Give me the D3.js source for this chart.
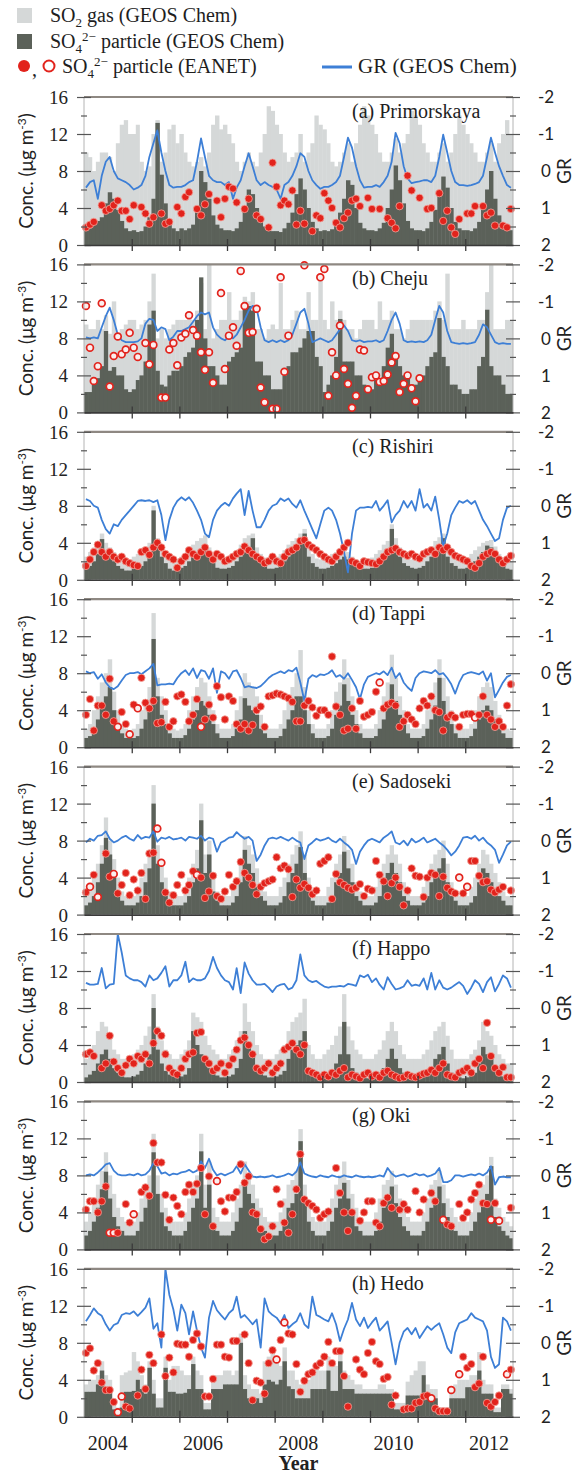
<!DOCTYPE html>
<html>
<head>
<meta charset="utf-8">
<script src="https://cdn.jsdelivr.net/npm/d3@7"></script>
<style>
  body { margin: 0; background: #fff; }
  svg { display: block; }
</style>
</head>
<body>
<svg id="chart" width="576" height="1479"></svg>
<script>
// monthly values Jan 2004 .. Dec 2012 (108 months), one row per year
const _ = null;

const stationNames = ["(a) Primorskaya", "(b) Cheju", "(c) Rishiri", "(d) Tappi",
                      "(e) Sadoseki", "(f) Happo", "(g) Oki", "(h) Hedo"];

// ---- (a) Primorskaya
const so2_a = [10,9.5,8,9,10,10,9.5,8,11,13,13.5,12,
  12,13,9,8,8.5,12,13.5,9,10,12.5,13,11,
  12,10,9,8.5,9,9.5,8.5,10,13,14,12.5,13,
  12,11,9,8,9,10,9,8.5,10,12,15,14.5,
  13,12,10,9,9.5,10,12,9,10,11,14,13,
  12.5,11,9,8.5,9,10,11,9,11,13,15,14,
  13,12,10,9,9,10,11.5,10,11,12,14.5,14,
  13,11,10,9,9,10,11,9,10,12,14,13,
  12,11,10,9,9,10,11,9,11,12,13.5,12];
const so4_a = [2.0,1.8,2.2,2.6,3.0,4.5,5.7,5.0,3.8,2.6,1.8,1.5,
  1.6,1.4,1.5,2.0,3.0,5.0,13.2,7.6,4.5,2.5,1.8,1.5,
  1.8,1.6,1.8,2.2,3.5,8.0,6.8,5.0,3.2,2.2,1.8,1.6,
  1.6,1.5,1.8,2.5,4.0,6.0,5.5,4.0,2.8,2.0,1.6,1.5,
  1.5,1.4,1.8,2.4,3.5,5.5,7.2,6.0,4.0,2.5,1.8,1.5,
  1.6,1.5,1.7,2.2,3.5,5.0,7.0,6.5,4.0,2.4,1.8,1.6,
  1.6,1.5,1.8,2.4,4.0,6.0,8.6,7.0,4.5,2.6,1.8,1.6,
  1.6,1.5,1.8,2.5,3.8,5.5,7.4,6.2,4.0,2.5,1.8,1.6,
  1.6,1.5,1.8,2.5,4.0,6.0,8.0,5.0,3.2,2.2,1.8,1.6];
const gr_a = [0.45,0.3,0.25,0.75,0.13,-0.25,-0.38,0,0.2,0.25,0.3,0.38,
  0.5,0.45,0.38,0.13,-0.38,-0.75,-1.1,-0.5,0,0.38,0.45,0.43,
  0.43,0.38,0.3,0.25,-0.25,-0.88,-0.38,0.13,0.25,0.3,0.3,0.38,
  0.3,0.75,0.45,0.25,-0.13,-0.48,-0.13,0.25,0.38,0.3,0.38,0.43,
  0.5,0.75,0.38,0.3,0.13,-0.13,-0.48,-0.38,0,0.25,0.38,0.48,
  0.43,0.43,0.38,0.3,0.13,-0.38,-0.9,-0.63,-0.13,0.25,0.45,0.43,
  0.43,0.38,0.43,0.3,0.13,-0.25,-1.03,-0.75,-0.13,0.2,0.33,0.3,
  0.28,0.25,0.25,0.3,0.13,-0.38,-0.98,-0.5,0,0.3,0.38,0.38,
  0.4,0.38,0.35,0.3,0.13,-0.38,-0.9,-0.5,-0.13,0.13,0.38,0.45];
const eanet_a = [1.9,2.2,2.5,_,4.3,3.7,3.9,4.3,4.8,3.7,3.7,2.8,
  4.3,_,4.1,3.4,2.3,3.0,_,3.4,2.3,2.5,_,4.1,
  3.4,5.2,5.7,_,3.9,3.2,4.4,5.5,_,4.8,3.0,5.0,
  6.3,6.1,4.6,_,3.9,5.0,_,3.2,2.8,_,1.9,8.9,
  6.3,4.3,4.8,4.4,5.9,2.2,3.7,2.3,_,1.5,3.2,2.9,
  5.6,4.8,4.0,2.4,1.9,2.9,3.5,4.8,5.0,4.2,_,5.1,
  3.9,_,3.9,_,2.9,2.4,1.8,4.2,_,7.5,5.9,_,
  5.1,_,3.9,4.0,_,5.6,2.6,3.7,1.9,1.2,2.8,_,
  3.4,3.4,4.2,_,4.2,3.2,3.5,2.1,_,2.1,1.9,3.9];
const open_a = [];

// ---- (b) Cheju
const so2_b = [9.5,9,9,10,9,10.5,8.5,12,8,9,9.5,10,
  10,9,9.5,10,12,15,8,9,8,9,9.5,10,
  10,10,10.5,10,11,14,9,16,8,9,10,10,
  13,10,10,11,12.5,12,13,9,9,8,9,9.5,
  9,14,9,9,10,11,9,9,13,10,10,15,
  10,9,12,10,11,10,9,9,8,9,10,10,
  10,9,12,10,10,11,9,9,8,9,10,10,
  10,10,10,10,11,12,10,15,9,9,9,10,
  9,9,9,10,10,13,16,9,9,9,10,10];
const so4_b = [2.2,2.2,3.7,3.7,5.0,8.8,4.5,4.9,4.0,4.0,2.5,2.2,
  2.5,3.5,4.0,5.5,9.5,11.0,4.5,3.0,2.8,4.0,4.5,4.5,
  5.0,6.0,6.5,7.0,10.0,14.6,8.0,5.0,5.0,4.0,3.0,3.0,
  5.5,6.0,6.5,7.0,11.9,11.5,11.0,5.5,5.5,4.0,4.0,2.5,
  2.5,2.5,4.0,5.0,6.5,6.5,7.0,8.0,8.8,8.8,6.0,5.0,
  2.2,3.0,4.0,6.0,10.1,5.5,5.5,5.5,4.0,4.0,3.0,2.5,
  2.5,3.5,3.5,5.0,7.0,8.5,6.0,5.0,4.0,4.0,3.0,3.0,
  4.0,4.0,5.0,6.0,6.5,10.2,6.0,5.0,3.0,3.0,2.5,2.0,
  2.0,2.5,2.5,5.0,6.0,11.1,5.0,4.0,4.0,3.0,2.0,2.0];
const gr_b = [-0.03,0,-0.03,0,-0.3,-0.6,-0.83,-0.5,-0.1,0.05,0.1,0.1,
  0.1,0.08,0,-0.4,-0.53,-0.5,-0.2,-0.3,-0.25,0.05,-0.05,-0.2,
  -0.2,-0.25,-0.3,-0.45,-0.6,-0.7,-0.65,-0.7,-0.3,-0.1,0,0.05,
  -0.05,0,-0.1,-0.3,-0.5,-0.75,-0.88,-0.8,-0.3,0.05,0.1,0.05,
  0.1,0.05,0.1,0.05,-0.1,-0.4,-0.7,-0.8,-0.4,0.1,0.05,0,
  0.05,0.1,0.05,-0.1,-0.25,-0.35,-0.2,0.05,0.08,0.05,0.1,0.08,
  0.08,0.05,0.1,0.05,-0.2,-0.5,-0.7,-0.4,0.05,0.1,0.08,0.1,
  0.08,0.1,0.05,-0.1,-0.5,-0.88,-0.7,-0.2,0.1,0.13,0.15,0.13,
  0.15,0.13,0.1,-0.1,-0.38,-0.3,-0.1,0.1,0.15,0.13,0.15,0.15];
const eanet_b = [11.5,7.0,3.4,5.0,11.8,_,2.8,6.1,8.2,6.3,6.8,8.6,
  7.0,6.0,_,7.5,5.2,7.3,_,1.6,1.6,6.8,7.5,5.1,
  8.1,8.5,10.5,8.9,8.3,6.5,4.6,6.5,3.2,_,12.9,4.7,
  8.3,9.2,7.2,15.3,11.5,8.6,8.7,11.2,2.7,1.1,_,0.4,
  0.4,14.6,4.4,8.3,_,_,_,15.9,_,_,_,14.6,
  15.5,1.8,6.5,4.0,9.4,4.7,3.1,0.5,1.8,6.8,6.7,2.5,
  3.8,4.0,3.3,3.4,4.1,5.4,6.1,2.2,3.1,4.0,2.6,1.2,
  3.7,_,_,_,_,_,_,_,_,_,_,_,
  _,_,_,_,_,_,_,_,_,_,_,_];
const open_b = "all";

// ---- (c) Rishiri
const so2_c = [2.5,3.0,3.5,4.0,5.0,4.0,3.5,3.0,2.5,2.2,2.0,2.2,
  2.5,2.8,3.0,3.5,4.0,8.0,4.5,3.5,2.8,2.2,2.0,2.3,
  2.5,2.8,3.2,3.8,4.2,4.5,4.8,3.5,2.8,2.3,2.0,2.2,
  2.4,2.8,3.2,3.8,4.5,4.8,5.0,3.5,2.8,2.4,2.2,2.2,
  2.5,2.8,3.2,3.8,4.2,4.5,5.0,5.5,3.5,2.8,2.3,2.2,
  2.2,2.4,2.8,3.0,3.2,3.5,3.0,2.5,2.2,2.0,2.0,2.1,
  2.4,2.8,3.2,3.8,4.2,6.0,4.5,3.5,2.8,2.4,2.2,2.2,
  2.4,2.8,3.2,3.6,4.2,4.6,5.0,3.5,2.8,2.4,2.2,2.2,
  2.4,2.8,3.2,3.6,4.0,4.2,4.3,3.6,2.8,2.4,2.1,2.0];
const so4_c = [1.2,1.5,2.0,2.8,4.4,3.0,2.5,2.0,1.5,1.2,1.0,1.0,
  1.2,1.3,1.5,2.0,2.5,7.5,3.5,2.5,1.8,1.2,1.0,1.2,
  1.3,1.5,2.0,2.5,3.0,3.2,3.5,2.5,1.8,1.3,1.2,1.2,
  1.3,1.5,2.0,2.5,3.0,3.5,4.5,2.5,1.8,1.5,1.2,1.2,
  1.3,1.5,2.0,2.5,3.0,3.5,4.0,5.0,2.5,1.8,1.4,1.2,
  1.2,1.3,1.5,1.8,2.2,2.5,2.2,1.8,1.5,1.2,1.2,1.2,
  1.3,1.5,2.0,2.5,3.0,5.5,3.5,2.5,1.8,1.5,1.3,1.2,
  1.3,1.5,2.0,2.5,3.0,3.5,4.5,2.5,1.8,1.5,1.2,1.2,
  1.3,1.5,2.0,2.5,3.0,3.7,3.5,2.8,2.0,1.5,1.2,1.1];
const gr_c = [-0.18,-0.13,0,0.05,0.38,0.63,0.75,0.5,0.55,0.38,0.25,0.13,
  0,-0.13,-0.15,-0.13,-0.15,-0.1,-0.15,0.25,0.93,0.38,0.05,-0.13,
  -0.23,-0.15,-0.23,-0.08,0.13,0.38,0.75,0.85,0.38,0.13,0,-0.08,
  0,-0.2,-0.33,-0.45,0.25,-0.4,0.13,0.58,0.58,0.38,0.13,0,
  -0.05,-0.2,-0.13,-0.2,-0.05,0.05,-0.15,0.13,0.38,0.63,0.88,0.5,
  0.13,0.05,0.13,0.38,0.75,1.25,1.8,0.75,0.13,0.05,0.05,0.03,
  0.05,-0.13,0.13,0,-0.15,0.45,0.25,0.13,-0.13,0.05,-0.13,0.13,
  -0.45,0.05,-0.05,0.13,-0.25,0.38,1.1,0.75,0.25,0.05,-0.13,-0.08,
  -0.15,-0.05,-0.13,0.13,0.38,0.55,0.75,0.95,0.88,0.38,0.05,0];
const eanet_c = [1.5,2.2,3.0,3.8,3.0,2.5,3.0,2.5,2.2,2.5,2.0,1.8,
  1.6,1.5,3.0,3.2,2.7,3.5,4.0,3.5,2.8,2.5,2.2,1.3,
  2.0,2.5,3.2,2.8,2.5,3.0,3.5,2.8,2.2,2.8,2.5,2.0,
  2.2,2.5,2.8,3.0,3.6,3.2,2.8,2.5,2.2,1.8,2.0,2.5,
  2.0,1.8,2.5,3.0,3.2,3.5,4.2,4.3,3.8,3.5,3.2,2.8,
  2.5,2.2,2.0,2.5,3.0,3.5,4.0,2.0,1.8,1.5,2.0,1.9,
  1.8,1.7,2.0,2.5,3.0,3.2,3.4,3.0,2.8,2.6,2.8,2.5,
  2.3,2.8,3.0,3.2,2.8,3.5,3.2,3.5,3.0,2.6,2.4,2.2,
  2.0,1.5,1.3,1.8,2.5,2.8,3.0,2.8,2.2,1.8,2.2,2.6];
const open_c = [];

// ---- (d) Tappi
const so2_d = [2.0,2.5,4.0,5.5,7.0,8.0,9.5,6.0,4.0,2.5,2.0,1.8,
  2.0,2.5,4.0,5.0,6.5,14.5,7.5,5.5,4.0,2.5,2.0,1.8,
  2.0,2.5,4.0,5.5,6.5,7.5,7.0,5.5,4.0,2.5,2.0,2.0,
  2.0,2.5,4.0,5.5,8.0,7.0,6.5,5.5,3.5,2.5,2.0,2.0,
  2.0,2.5,4.0,5.5,6.5,8.0,10.5,6.5,4.0,2.5,2.0,2.0,
  2.0,2.5,4.0,6.0,7.0,9.5,7.5,5.5,4.0,2.5,2.0,2.0,
  2.0,2.5,4.0,5.5,7.0,10.0,7.5,5.5,4.0,2.5,2.0,2.0,
  2.0,2.5,4.0,5.5,7.0,9.5,7.5,5.5,4.0,2.5,2.0,2.0,
  2.0,2.5,4.0,5.5,6.5,7.0,6.5,5.0,3.5,2.5,2.0,1.8];
const so4_d = [1.0,1.2,2.0,3.0,4.5,5.5,6.5,4.0,2.5,1.5,1.0,1.0,
  1.0,1.2,2.0,3.0,4.0,11.7,5.5,3.5,2.5,1.5,1.0,1.0,
  1.0,1.3,2.0,3.0,4.0,5.0,4.5,3.5,2.5,1.5,1.0,1.0,
  1.0,1.2,2.0,3.0,5.3,4.5,4.0,3.5,2.0,1.5,1.0,1.0,
  1.0,1.2,2.0,3.0,4.0,5.5,5.5,4.0,2.5,1.5,1.0,1.0,
  1.0,1.2,2.0,3.5,4.5,6.8,5.0,3.5,2.5,1.5,1.0,1.0,
  1.0,1.2,2.0,3.0,4.5,6.8,5.0,3.5,2.5,1.5,1.0,1.0,
  1.0,1.2,2.0,3.0,4.5,7.5,5.0,3.5,2.5,1.5,1.0,1.0,
  1.0,1.2,2.0,3.0,4.0,4.5,4.0,3.0,2.0,1.5,1.0,1.0];
const gr_d = [-0.05,0,-0.03,0.15,0.03,0.25,0.38,0.43,0.35,0.2,0.05,0,
  0,-0.03,0.03,-0.05,-0.13,-0.25,0.33,0.3,0.3,0.28,0.3,0.13,
  0,-0.08,0.05,-0.13,0.13,-0.08,-0.05,0.15,-0.13,0.53,-0.05,0,
  0.15,-0.05,-0.08,0.13,0.38,0.35,0.38,0.4,0.35,0.25,0.13,0.05,
  0,-0.05,0,-0.08,-0.05,-0.15,0.25,0.75,0.15,0.05,0.1,0.03,
  0.05,0,-0.08,0.1,0.05,0.15,0,0.18,0.38,0.7,0.3,0.1,
  0.05,0,0.03,-0.05,0.05,-0.15,0.13,0,0.25,0.38,0.48,0.13,
  0,-0.05,-0.03,0,-0.08,0.03,0,0.13,0.3,0.55,0.25,0.05,
  0,-0.03,0,0.03,-0.05,0.2,0,0.65,0.45,0.25,0.1,0.05];
const eanet_d = [3.5,5.2,1.8,4.5,4.5,3.5,7.4,2.8,2.2,3.8,2.5,1.4,
  4.6,4.2,7.5,4.8,4.2,5.0,2.6,2.7,4.9,2.2,2.8,5.5,
  5.7,4.9,2.8,3.5,5.2,2.2,3.0,4.6,3.2,6.6,5.4,3.0,
  5.5,5.0,2.5,2.0,2.5,1.8,2.4,4.0,4.4,2.2,5.5,5.6,
  5.8,5.7,5.5,5.3,4.9,2.8,2.8,4.5,5.0,4.3,3.4,4.0,
  4.0,3.5,9.8,4.4,3.5,1.8,2.0,4.2,2.0,5.0,3.3,3.5,
  3.8,6.0,7.0,4.2,4.6,4.8,4.5,2.2,2.8,3.5,3.0,2.5,
  4.2,5.0,4.5,5.5,4.0,3.8,1.8,3.2,3.5,3.2,2.2,3.5,
  3.6,3.6,3.2,3.5,5.5,3.5,3.0,2.2,2.8,2.2,4.5,6.8];
const open_d = [8, 11, 13, 29, 74, 98];

// ---- (e) Sadoseki
const so2_e = [2.0,3.0,4.0,5.5,7.5,10.5,8.0,6.0,4.0,2.5,2.0,2.0,
  2.0,3.0,4.0,5.5,7.0,14.0,7.5,5.5,4.0,2.5,2.0,2.0,
  2.0,3.0,4.0,5.5,7.0,12.0,6.5,8.0,4.0,2.5,2.0,2.0,
  2.0,3.0,4.0,5.5,8.5,7.5,6.5,5.0,3.5,2.5,2.0,2.0,
  2.0,3.0,4.0,5.5,6.5,7.5,9.0,6.5,4.0,2.5,2.0,2.0,
  2.0,3.0,4.0,5.5,6.5,8.5,7.0,5.5,3.5,2.5,2.0,2.0,
  2.0,3.0,4.0,5.5,6.5,7.5,6.5,5.5,3.5,2.5,2.0,2.0,
  2.0,3.0,4.0,5.5,6.5,7.0,8.0,5.5,3.5,2.5,2.0,2.0,
  2.0,3.0,4.0,5.5,7.0,6.5,5.5,4.5,3.5,2.5,2.0,2.0];
const so4_e = [1.0,1.3,2.0,3.5,5.5,8.3,6.5,4.0,2.5,1.5,1.0,1.0,
  1.0,1.3,2.0,3.5,5.0,12.0,5.5,3.5,2.5,1.5,1.0,1.0,
  1.0,1.3,2.0,3.5,5.0,10.2,4.5,6.5,2.5,1.5,1.0,1.0,
  1.0,1.3,2.0,3.5,7.0,5.5,4.5,3.0,2.0,1.5,1.0,1.0,
  1.0,1.3,2.0,3.5,4.5,5.5,7.3,4.5,2.5,1.5,1.0,1.0,
  1.0,1.3,2.0,3.5,4.5,6.8,5.0,3.5,2.0,1.5,1.0,1.0,
  1.0,1.3,2.0,3.5,4.5,5.6,4.5,3.5,2.0,1.5,1.0,1.0,
  1.0,1.3,2.0,3.5,4.5,5.0,6.1,3.5,2.0,1.5,1.0,1.0,
  1.0,1.3,2.0,3.5,5.0,4.5,3.5,2.5,2.0,1.5,1.0,1.0];
const gr_e = [0.05,-0.05,0,-0.13,-0.15,-0.25,-0.05,0.05,0,-0.08,-0.13,-0.05,
  0,-0.15,-0.05,-0.1,-0.08,-0.25,0.03,-0.08,-0.05,-0.1,-0.03,-0.05,
  -0.08,0,-0.1,-0.08,-0.05,-0.13,0,-0.08,-0.05,0.3,0.05,0,
  -0.08,-0.1,-0.23,-0.13,-0.05,-0.1,0,0.55,0.38,0.13,-0.05,-0.08,
  -0.05,-0.1,-0.05,0,-0.08,0,0.05,0.5,0.13,0.05,-0.05,0,
  -0.03,-0.08,0,0.05,-0.05,0.05,0.13,0.25,0.63,0.3,0.13,0,
  -0.05,0,0.05,-0.08,-0.15,-0.25,0.05,0.1,0,0.13,-0.05,0.05,
  0,-0.08,0.05,0,-0.05,0.05,0.13,0.25,0.4,0.3,0.13,-0.08,
  -0.1,-0.05,-0.13,0,-0.08,0.05,0.13,0.25,0.6,0.38,0.13,0.03];
const eanet_e = [2.4,3.0,4.3,1.9,_,6.6,4.1,4.4,2.3,3.2,4.5,2.1,
  3.8,2.6,4.5,1.7,6.6,6.7,9.3,5.6,2.4,1.3,2.1,3.2,
  4.3,2.6,3.2,4.7,4.3,4.0,1.8,2.5,4.2,2.0,1.7,2.5,
  4.3,3.0,3.6,5.7,4.5,4.0,3.2,2.2,3.0,3.4,3.6,3.8,
  6.2,5.0,5.3,4.9,1.9,3.8,2.9,3.3,2.9,2.2,2.6,5.5,
  5.8,6.2,1.7,4.4,3.5,3.2,2.9,2.7,2.9,3.3,2.0,2.8,
  2.6,5.8,4.3,3.6,2.0,3.4,4.0,3.0,1.0,2.6,5.0,4.2,
  4.1,1.9,4.0,4.5,4.3,2.0,4.1,2.9,2.5,2.3,4.0,2.3,
  3.0,5.8,5.8,4.2,3.5,3.6,2.7,2.4,2.7,3.0,_,2.6];
const open_e = [1, 3, 7, 18, 19, 28, 94, 96];

// ---- (f) Happo
const so2_f = [2.5,3.0,4.0,5.5,6.5,6.0,5.0,3.5,3.0,2.5,2.5,2.5,
  3.0,3.5,4.0,5.0,6.0,9.5,6.0,4.5,3.5,3.0,2.5,2.5,
  3.0,3.5,4.5,7.5,7.0,6.5,5.0,4.0,3.5,3.0,2.5,2.5,
  3.0,3.5,4.5,5.5,8.5,6.5,5.5,4.0,3.0,2.5,2.5,2.5,
  3.0,3.5,4.0,5.5,6.5,7.0,7.5,9.0,4.0,3.0,2.5,2.5,
  3.0,3.5,4.0,5.0,6.0,9.5,6.0,4.5,3.5,3.0,2.5,2.5,
  2.5,3.0,3.5,4.5,5.5,6.5,5.5,4.0,3.0,2.5,2.5,2.5,
  2.5,3.0,3.5,4.5,5.5,6.0,6.5,5.0,3.5,2.5,2.5,2.5,
  2.5,3.0,3.5,4.5,6.5,5.5,5.0,4.0,3.0,2.5,2.0,2.0];
const so4_f = [0.5,0.8,1.2,2.0,3.0,3.5,2.5,1.5,1.0,0.6,0.5,0.5,
  0.6,0.8,1.2,2.0,3.0,8.0,3.5,2.0,1.2,0.8,0.6,0.5,
  0.6,0.8,1.5,5.5,4.0,3.0,2.5,1.5,1.0,0.7,0.5,0.5,
  0.6,0.8,1.5,2.5,5.5,4.0,3.0,1.5,1.0,0.7,0.5,0.5,
  0.6,0.8,1.2,2.5,3.5,4.0,4.5,5.5,1.5,0.7,0.5,0.5,
  0.5,0.7,1.2,2.0,3.0,6.5,3.0,1.5,1.0,0.6,0.5,0.4,
  0.5,0.7,1.0,1.5,2.5,3.6,2.5,1.5,1.0,0.6,0.5,0.4,
  0.5,0.7,1.0,1.5,2.5,3.0,3.8,2.0,1.0,0.6,0.5,0.4,
  0.5,0.7,1.0,2.0,3.8,3.0,2.5,1.5,1.0,0.6,0.5,0.4];
const gr_f = [-0.68,-0.63,-0.63,-0.65,-1.08,-0.53,-0.63,-0.65,-2,-1.5,-0.88,-0.8,
  -0.75,-0.75,-0.7,-0.58,-0.88,-0.75,-0.8,-0.95,-1.13,-0.58,-0.75,-0.75,
  -0.88,-1.25,-0.7,-0.8,-0.75,-0.75,-0.8,-1,-1.38,-1.08,-0.88,-0.75,
  -0.7,-0.5,-1.08,-0.4,-1.23,-0.93,-0.75,-0.63,-0.63,-0.65,-0.55,-0.43,
  -0.58,-0.63,-0.65,-0.5,-0.55,-0.75,-1.45,-0.88,-0.75,-0.7,-0.73,-0.65,
  -0.58,-0.55,-0.58,-0.58,-0.6,-0.58,-0.65,-0.63,-0.6,-0.88,-0.83,-0.9,
  -0.7,-0.8,-0.63,-0.5,-0.83,-0.65,-0.5,-0.53,-0.58,-0.75,-0.6,-0.63,
  -0.6,-0.8,-0.5,-0.95,-0.5,-0.75,-0.55,-0.5,-0.55,-0.63,-0.7,-0.6,
  -0.38,-0.55,-0.75,-0.65,-0.43,-0.7,-0.83,-0.45,-0.65,-0.88,-0.8,-0.55];
const eanet_f = [3.0,3.2,2.8,_,1.5,2.0,5.0,2.2,1.5,1.0,1.8,2.5,
  2.0,2.8,2.5,3.0,2.0,4.2,5.5,5.0,3.0,1.5,1.0,0.8,
  1.5,2.5,3.0,3.2,5.3,5.4,2.5,2.0,1.2,1.5,2.0,1.0,
  1.8,2.5,3.5,4.5,4.8,4.0,3.0,1.5,1.2,1.5,2.0,1.0,
  1.5,2.0,3.5,3.8,4.2,3.5,3.0,4.0,1.2,1.0,0.8,0.5,
  0.8,0.6,1.0,0.8,1.2,1.5,0.5,0.8,0.6,0.4,0.8,1.0,
  0.6,0.8,0.5,1.0,1.2,0.8,0.6,0.4,0.5,0.8,0.6,0.5,
  0.7,0.9,1.0,1.3,1.0,1.5,2.0,0.8,0.6,0.5,1.0,1.2,
  1.5,1.0,2.0,2.5,1.5,6.4,2.8,1.5,1.0,1.6,0.5,0.5];
const open_f = [];

// ---- (g) Oki
const so2_g = [3.0,4.0,5.5,7.0,8.5,10.5,8.0,6.0,4.5,3.5,3.0,3.0,
  3.0,4.0,5.5,7.0,8.0,12.5,8.0,6.0,4.5,3.5,3.0,3.0,
  3.0,4.0,5.5,7.0,8.0,12.5,7.0,9.5,4.5,3.5,3.0,3.0,
  3.0,4.0,5.5,7.0,9.5,8.0,7.0,5.5,4.5,3.5,3.0,3.0,
  3.0,4.0,5.5,7.0,7.5,8.5,13.0,7.0,5.0,3.5,3.0,3.0,
  3.0,4.0,5.5,7.0,8.0,9.5,7.5,6.0,4.5,3.5,3.0,3.0,
  3.0,4.0,5.5,7.0,7.5,8.5,7.0,5.5,4.5,3.5,3.0,3.0,
  3.0,4.0,5.5,7.0,7.5,8.5,7.0,5.5,4.5,3.5,3.0,3.0,
  3.0,4.0,5.5,6.5,7.0,8.0,10.0,5.5,4.5,3.5,3.0,2.5];
const so4_g = [1.5,2.0,3.0,4.5,6.5,8.4,5.5,3.5,2.5,2.0,1.5,1.5,
  1.5,2.0,3.0,4.5,6.0,10.5,6.0,4.0,2.5,2.0,1.5,1.5,
  1.5,2.0,3.0,4.5,5.5,10.6,4.5,7.0,2.5,2.0,1.5,1.5,
  1.5,2.0,3.0,4.5,7.0,6.0,5.0,3.5,2.5,2.0,1.5,1.5,
  1.5,2.0,3.0,4.5,5.0,6.0,11.7,5.0,3.0,2.0,1.5,1.5,
  1.5,2.0,3.0,4.5,5.5,7.2,5.5,4.0,2.5,2.0,1.5,1.5,
  1.5,2.0,3.0,4.5,5.5,6.8,5.0,3.5,2.5,2.0,1.5,1.5,
  1.5,2.0,3.0,4.5,5.5,6.8,5.0,3.5,2.5,2.0,1.5,1.5,
  1.5,2.0,3.0,4.0,5.0,6.0,9.0,3.5,2.5,2.0,1.5,1.2];
const gr_g = [0,-0.03,0,-0.08,-0.18,-0.3,-0.33,-0.13,-0.03,0,0,-0.03,
  0,-0.05,0,-0.03,-0.13,-0.33,-0.25,-0.05,-0.08,0,-0.05,-0.03,
  -0.08,-0.1,-0.15,-0.08,-0.13,-0.38,-0.2,-0.45,-0.15,0,-0.05,0,
  -0.05,-0.1,-0.25,-0.05,-0.3,-0.13,0.03,0.05,0.03,0.05,0.03,0,
  0.05,0.03,0,-0.05,0,-0.1,-0.35,-0.05,0,0.03,0.05,0,
  0.03,0.05,0,0.03,0.05,0,0.03,0.05,0,0.03,0.05,0.03,
  0.05,0.03,0,0.03,-0.2,-0.05,0.03,0,-0.03,0.03,0,-0.05,
  0,-0.03,0.03,0,-0.05,-0.2,0.18,0.18,0.13,0,0,0.03,
  0,-0.03,0,-0.05,0,-0.08,-0.25,0.25,0.05,0.03,0.05,0.05];
const eanet_g = [4.3,5.2,5.2,4.0,5.2,6.8,1.8,1.8,1.8,_,4.9,2.9,
  3.8,_,6.2,6.7,5.8,11.5,9.4,9.4,5.9,3.2,5.6,4.7,
  3.8,6.2,7.0,6.2,7.1,8.8,3.8,7.9,2.5,7.4,5.2,4.1,
  5.6,5.6,6.2,9.2,7.2,7.9,4.0,3.8,2.2,1.1,1.4,2.5,
  6.5,4.9,2.9,1.8,3.8,6.5,10.3,5.4,5.0,4.7,4.3,3.4,
  3.8,4.1,_,8.8,6.1,4.0,2.0,4.0,_,3.1,4.0,5.2,
  5.2,2.9,2.5,5.0,5.6,4.5,_,4.3,4.9,4.3,_,6.3,
  4.0,5.4,_,6.1,5.2,_,3.2,2.7,2.5,_,4.9,3.4,
  4.0,5.4,6.1,7.0,5.0,4.9,3.2,5.0,3.1,_,_,4.5];
const open_g = [6, 7, 12, 33, 90, 102, 104];

// ---- (h) Hedo
const so2_h = [3.5,4.0,4.0,4.5,6.0,4.5,4.0,1.5,1.0,4.5,4.8,5.0,
  7.0,6.0,4.5,3.5,6.0,4.0,2.0,2.0,6.5,4.0,5.5,5.5,
  5.0,4.5,4.5,6.5,5.0,4.5,1.5,1.5,4.0,4.5,4.5,5.0,
  5.0,4.5,5.0,9.0,4.5,3.5,3.0,3.0,2.5,6.0,6.5,7.0,
  6.0,5.5,7.5,5.0,5.0,4.0,3.5,3.5,4.0,5.0,5.5,5.0,
  5.0,6.5,5.5,5.5,7.0,5.0,4.5,4.0,3.5,3.5,3.0,3.0,
  3.0,3.0,3.5,3.5,3.0,3.0,1.5,1.5,1.5,3.8,4.5,5.0,
  6.0,6.0,3.5,3.0,3.0,1.0,1.0,1.0,3.0,3.5,4.0,4.0,
  4.0,4.5,4.5,7.0,4.0,3.5,3.5,1.0,1.0,3.5,3.5,3.0];
const so4_h = [2.7,2.7,2.7,3.5,5.0,3.0,2.8,0.8,0.6,1.0,2.7,2.7,
  2.8,4.0,3.0,2.5,5.3,2.5,1.0,1.0,5.3,2.7,2.7,2.5,
  2.5,2.6,3.0,5.7,3.0,3.0,0.8,0.8,3.0,3.0,3.0,3.5,
  3.5,3.5,3.5,8.0,3.0,2.0,2.0,2.0,1.5,3.5,4.0,3.8,
  3.5,4.0,6.0,3.3,3.0,2.0,2.0,2.0,2.0,3.0,3.0,3.0,
  3.0,5.0,2.8,2.8,6.0,3.0,3.0,3.0,2.5,2.5,2.5,2.5,
  2.5,2.5,2.5,2.5,2.5,2.5,0.8,0.8,0.8,2.3,2.3,2.3,
  2.3,4.5,2.0,2.0,2.0,0.5,0.5,0.5,2.0,2.0,2.0,2.0,
  3.2,3.2,3.2,5.0,2.5,2.5,2.5,0.5,0.5,3.0,3.0,2.5];
const gr_h = [-0.58,-0.75,-0.93,-0.8,-0.73,-0.5,-0.33,-0.48,-0.53,-0.75,-0.8,-0.78,
  -0.85,-0.73,-0.83,-0.95,-1.2,-0.38,-0.53,0.13,-2,-1.3,-0.9,-0.33,
  -1.03,-0.8,-0.23,-0.85,-0.33,0.13,0.4,-0.68,-1.13,-0.88,-0.75,-0.63,
  -0.8,-0.9,-1.25,-0.68,-0.75,-0.63,-0.5,-0.63,0.13,-1.2,-0.85,-0.75,
  -0.68,-0.53,-0.75,-0.4,-0.5,-0.58,-0.8,-0.5,-0.4,-1.25,-0.75,-0.7,
  -0.63,-0.58,-0.8,-0.5,-0.05,-0.38,-0.63,-1.08,-0.63,-0.45,-0.68,-0.4,
  -0.55,-0.68,-0.33,-0.45,-0.58,0,0.58,0,-0.3,-0.4,-0.23,-0.4,
  -0.13,-0.3,-0.45,-0.35,-0.45,-0.53,-0.23,0.13,0.28,-0.28,-0.53,-0.58,
  -0.63,-0.8,-0.68,-0.63,-0.58,-0.33,0.38,0.68,0.58,-0.68,-0.58,-0.33];
const eanet_h = [6.9,7.4,5.0,5.8,3.7,2.9,2.9,1.6,0.5,2.2,1.1,0.9,
  _,2.3,5.1,3.0,6.7,5.8,_,8.9,4.4,6.4,4.8,7.9,
  7.8,7.8,6.5,8.3,9.0,7.6,2.2,2.2,4.1,7.8,7.8,6.5,
  6.4,8.2,8.2,_,8.9,5.8,1.8,3.9,3.7,2.5,5.8,7.2,
  6.2,8.3,10.2,9.0,8.9,5.7,2.7,3.9,4.6,4.8,5.5,5.8,
  6.5,8.1,5.8,7.1,7.1,4.4,1.1,_,6.2,5.1,4.6,6.9,
  8.1,6.0,5.7,4.1,4.3,1.3,2.3,_,0.8,0.9,0.9,1.5,
  1.6,2.2,2.3,2.0,0.9,0.6,0.6,0.6,2.9,_,4.6,6.5,
  5.3,5.7,3.2,3.6,6.5,1.5,1.1,1.6,2.3,_,4.6,5.1];
const open_h = [8, 9, 48, 50, 87, 92, 94, 106];

const concTicks = [0, 2, 4, 6, 8, 10, 12, 14, 16];
const grTicks = [-2, -1.5, -1, -0.5, 0, 0.5, 1, 1.5, 2];
const yearLabels = [2004, 2006, 2008, 2010, 2012];

// ------------------------------------------------------------------
const panels = [
  {so2: so2_a, so4: so4_a, gr: gr_a, obs: eanet_a, open: open_a},
  {so2: so2_b, so4: so4_b, gr: gr_b, obs: eanet_b, open: open_b},
  {so2: so2_c, so4: so4_c, gr: gr_c, obs: eanet_c, open: open_c},
  {so2: so2_d, so4: so4_d, gr: gr_d, obs: eanet_d, open: open_d},
  {so2: so2_e, so4: so4_e, gr: gr_e, obs: eanet_e, open: open_e},
  {so2: so2_f, so4: so4_f, gr: gr_f, obs: eanet_f, open: open_f},
  {so2: so2_g, so4: so4_g, gr: gr_g, obs: eanet_g, open: open_g},
  {so2: so2_h, so4: so4_h, gr: gr_h, obs: eanet_h, open: open_h}
];
panels.forEach((p, i) => p.label = stationNames[i]);

const SERIF = "'Liberation Serif', 'Times New Roman', serif";
const SANS = "Lato, 'Open Sans', sans-serif";
const C_GAS = "#d5d8d8", C_PART = "#5b6159", C_RED = "#e2231c", C_BLUE = "#3d7fd6";

const svg = d3.select("#chart");
const left = 84, right = 513;
const panelTop = 97, panelStep = 167.4, panelH = 148;

const x = d3.scaleTime()
    .domain([new Date(2004, 0, 1), new Date(2013, 0, 1)])
    .range([left, right]);
const monthStart = m => new Date(2004, m, 1);
const monthMid = m => new Date(2004, m, 16);

panels.forEach(function(p, i) {
    const top = panelTop + i * panelStep;
    const bot = top + panelH;
    const y = d3.scaleLinear().domain([0, 16]).range([bot, top]);
    const yGR = d3.scaleLinear().domain([2, -2]).range([bot, top]);

    svg.append("clipPath").attr("id", "clip" + i)
        .append("rect").attr("x", left).attr("y", top)
        .attr("width", right - left).attr("height", panelH);

    const g = svg.append("g");
    const plot = g.append("g").attr("clip-path", "url(#clip" + i + ")");

    // SO2 gas bars (behind), then SO4 particle bars
    plot.selectAll("rect.gas").data(p.so2).join("rect")
        .attr("class", "gas")
        .attr("x", (d, m) => x(monthStart(m)))
        .attr("width", (d, m) => x(monthStart(m + 1)) - x(monthStart(m)) + 0.4)
        .attr("y", d => y(d))
        .attr("height", d => y(0) - y(d))
        .attr("fill", C_GAS);

    plot.selectAll("rect.part").data(p.so4).join("rect")
        .attr("class", "part")
        .attr("x", (d, m) => x(monthStart(m)))
        .attr("width", (d, m) => x(monthStart(m + 1)) - x(monthStart(m)) + 0.4)
        .attr("y", d => y(d))
        .attr("height", d => y(0) - y(d))
        .attr("fill", C_PART);

    // GR line
    const line = d3.line()
        .x((d, m) => x(monthMid(m)))
        .y(d => yGR(d));
    plot.append("path").datum(p.gr)
        .attr("d", line)
        .attr("fill", "none")
        .attr("stroke", C_BLUE)
        .attr("stroke-width", 1.8)
        .attr("stroke-linejoin", "round");

    // EANET observations
    const obs = p.obs.map((v, m) => ({m: m, v: v})).filter(d => d.v !== null);
    const isOpen = d => p.open === "all" || p.open.indexOf(d.m) >= 0;
    g.selectAll("circle.obs").data(obs).join("circle")
        .attr("class", "obs")
        .attr("cx", d => x(monthMid(d.m)))
        .attr("cy", d => y(d.v))
        .attr("r", d => isOpen(d) ? 3.4 : 3.7)
        .attr("fill", d => isOpen(d) ? "#fbeeee" : C_RED)
        .attr("stroke", d => isOpen(d) ? C_RED : "#f3a49c")
        .attr("stroke-width", d => isOpen(d) ? 1.7 : 0.8);

    // frame: light side spines and a darker top edge
    g.append("line").attr("x1", left).attr("x2", left).attr("y1", top).attr("y2", bot)
        .attr("stroke", "#b4b4b4").attr("stroke-width", 1);
    g.append("line").attr("x1", right).attr("x2", right).attr("y1", top).attr("y2", bot)
        .attr("stroke", "#b4b4b4").attr("stroke-width", 1);
    g.append("line").attr("x1", left).attr("x2", right).attr("y1", top).attr("y2", top)
        .attr("stroke", "#8e8882").attr("stroke-width", 2.2);

    // left concentration axis
    const axL = g.append("g").attr("transform", "translate(" + left + ",0)")
        .call(d3.axisLeft(y).tickValues(concTicks).tickSizeOuter(0)
            .tickFormat(d => d % 4 === 0 ? d : ""));
    axL.select(".domain").remove();
    axL.selectAll(".tick line")
        .attr("x1", d => d % 4 === 0 ? 7 : 3)
        .attr("x2", d => d % 4 === 0 ? -7 : -3)
        .attr("stroke", "#555").attr("stroke-width", 1.2);
    axL.selectAll(".tick text")
        .attr("x", -16).attr("dy", "0.34em")
        .attr("font-family", SERIF).attr("font-size", 19).attr("fill", "#222");

    // right GR axis
    const axR = g.append("g").attr("transform", "translate(" + right + ",0)")
        .call(d3.axisRight(yGR).tickValues(grTicks).tickSizeOuter(0)
            .tickFormat(d => Number.isInteger(d) ? String(d) : ""));
    axR.select(".domain").remove();
    axR.selectAll(".tick line")
        .attr("x1", d => Number.isInteger(d) ? -7 : -3)
        .attr("x2", d => Number.isInteger(d) ? 7 : 3)
        .attr("stroke", "#555").attr("stroke-width", 1.2);
    axR.selectAll(".tick text")
        .attr("x", 33).attr("dy", "0.34em").attr("text-anchor", "middle")
        .attr("font-family", SANS).attr("font-size", 17).attr("fill", "#222");

    // bottom time axis (year boundaries)
    const axB = g.append("g").attr("transform", "translate(0," + bot + ")")
        .call(d3.axisBottom(x).tickValues(d3.range(2005, 2013).map(yr => new Date(yr, 0, 1)))
            .tickSizeOuter(0).tickFormat(""));
    axB.select(".domain").attr("stroke", "#3a3a3a").attr("stroke-width", 1.6);
    axB.selectAll(".tick line").attr("y1", -6).attr("y2", 6)
        .attr("stroke", "#3a3a3a").attr("stroke-width", 1.3);

    // station title
    g.append("text").attr("x", 352).attr("y", top + 21)
        .attr("font-family", SERIF).attr("font-size", 20).attr("fill", "#1e1e1e")
        .text(p.label);

    // axis titles
    const yl = g.append("text")
        .attr("transform", "translate(33," + (top + panelH / 2) + ") rotate(-90)")
        .attr("text-anchor", "middle")
        .attr("font-family", SANS).attr("font-size", 19).attr("fill", "#222");
    yl.append("tspan").text("Conc. (\u03bcg m");
    yl.append("tspan").attr("dy", -7).attr("font-size", 12).text("-3");
    yl.append("tspan").attr("dy", 7).text(")");

    g.append("text")
        .attr("transform", "translate(564," + (top + panelH / 2) + ") rotate(-90)")
        .attr("text-anchor", "middle").attr("dy", "0.35em")
        .attr("font-family", SANS).attr("font-size", 19).attr("fill", "#222")
        .text("GR");

    if (i === panels.length - 1) {
        g.selectAll("text.year").data(yearLabels).join("text")
            .attr("class", "year")
            .attr("x", d => x(new Date(d, 6, 1)))
            .attr("y", bot + 33)
            .attr("text-anchor", "middle")
            .attr("font-family", SERIF).attr("font-size", 20).attr("fill", "#222")
            .text(d => d);
        g.append("text").attr("x", (left + right) / 2).attr("y", bot + 53)
            .attr("text-anchor", "middle")
            .attr("font-family", SERIF).attr("font-size", 20).attr("font-weight", "bold")
            .attr("fill", "#222").text("Year");
    }
});

// ---- legend
const lg = svg.append("g").attr("font-family", SERIF).attr("font-size", 20).attr("fill", "#1e1e1e");

lg.append("rect").attr("x", 17).attr("y", 8).attr("width", 15).attr("height", 15).attr("fill", C_GAS);
const t1 = lg.append("text").attr("x", 50).attr("y", 22);
t1.append("tspan").text("SO");
t1.append("tspan").attr("dy", 5).attr("font-size", 13).text("2");
t1.append("tspan").attr("dy", -5).text(" gas (GEOS Chem)");

lg.append("rect").attr("x", 17).attr("y", 34).attr("width", 15).attr("height", 15).attr("fill", C_PART);
const t2 = lg.append("text").attr("x", 50).attr("y", 48);
t2.append("tspan").text("SO");
t2.append("tspan").attr("dy", 5).attr("font-size", 13).text("4");
t2.append("tspan").attr("dy", -12).attr("font-size", 13).text("2\u2212");
t2.append("tspan").attr("dy", 7).text(" particle (GEOS Chem)");

lg.append("circle").attr("cx", 24).attr("cy", 66).attr("r", 6).attr("fill", C_RED);
lg.append("text").attr("x", 32).attr("y", 76).text(",");
lg.append("circle").attr("cx", 49).attr("cy", 66).attr("r", 5.5)
    .attr("fill", "#fff").attr("stroke", C_RED).attr("stroke-width", 2);
const t3 = lg.append("text").attr("x", 62).attr("y", 73);
t3.append("tspan").text("SO");
t3.append("tspan").attr("dy", 5).attr("font-size", 13).text("4");
t3.append("tspan").attr("dy", -12).attr("font-size", 13).text("2\u2212");
t3.append("tspan").attr("dy", 7).text(" particle (EANET)");

lg.append("line").attr("x1", 322).attr("x2", 352).attr("y1", 67).attr("y2", 67)
    .attr("stroke", C_BLUE).attr("stroke-width", 3);
lg.append("text").attr("x", 358).attr("y", 73).attr("font-size", 21).text("GR (GEOS Chem)");
</script>
</body>
</html>
